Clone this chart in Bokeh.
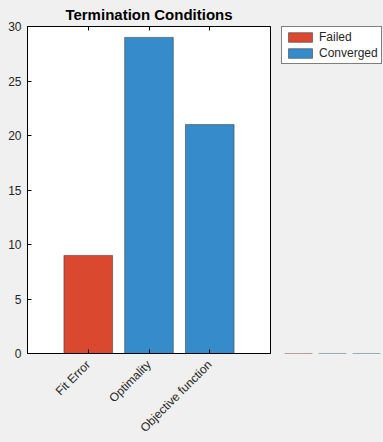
import math
from bokeh.plotting import figure
from bokeh.layouts import row
from bokeh.models import (ColumnDataSource, FactorRange, Range1d, CategoricalAxis,
                          FixedTicker, GlobalInlineStyleSheet, Legend, LegendItem)
from bokeh.embed import file_html
from bokeh.resources import INLINE

# ---- data ----
categories = ["Fit Error", "Optimality", "Objective function"]
counts = [9, 29, 21]
status = ["Failed", "Converged", "Converged"]
status_names = ["Failed", "Converged"]
status_colors = ["#D9482F", "#368CCB"]
y_ticks = [0, 5, 10, 15, 20, 25, 30]

cmap = dict(zip(status_names, status_colors))
source = ColumnDataSource(dict(cat=categories, count=counts, status=status,
                               color=[cmap[s] for s in status]))

FONT = "Liberation Sans"
TXT = "#262626"
BG = "#f0f0f0"

# ---- main axes ----
p = figure(x_range=FactorRange(factors=categories, range_padding=0.5,
                               range_padding_units="absolute"),
           y_range=Range1d(0, 30),
           width=271, height=442,
           output_backend="svg", toolbar_location=None,
           min_border_left=27, min_border_right=1, min_border_top=25, min_border_bottom=88,
           background_fill_color="white", border_fill_color=BG,
           outline_line_color="black", outline_line_width=1)

p.stylesheets = [GlobalInlineStyleSheet(css="html, body { background-color: #f0f0f0; }")]

p.title.text = "Termination Conditions"
p.title.align = "center"
p.title.text_font = FONT
p.title.text_font_size = "15px"
p.title.text_font_style = "bold"
p.title.text_color = "black"
p.title.standoff = 7

p.vbar(x="cat", top="count", width=0.8, source=source, fill_color="color",
       line_color="#3a3a3a", line_width=0.8, line_alpha=0.7)

p.xgrid.visible = False
p.ygrid.visible = False

for ax in p.xaxis + p.yaxis:
    ax.axis_line_color = "black"
    ax.major_tick_line_color = "black"
    ax.major_tick_in = 4
    ax.major_tick_out = 0
    ax.minor_tick_line_color = None
    ax.major_label_text_font = FONT
    ax.major_label_text_font_size = "12px"
    ax.major_label_text_color = TXT

p.yaxis.ticker = FixedTicker(ticks=y_ticks)
p.yaxis.major_label_standoff = 6
p.xaxis.major_label_orientation = math.pi / 4
p.xaxis.major_label_standoff = 9

top = CategoricalAxis(major_label_text_font_size="0px", major_label_text_color=None,
                      major_tick_in=4, major_tick_out=0,
                      major_label_standoff=0, axis_line_color="black",
                      major_tick_line_color="black", minor_tick_line_color=None)
p.add_layout(top, "above")

# ---- legend panel (separate canvas to the right of the axes) ----
q = figure(x_range=FactorRange(factors=categories), y_range=Range1d(1000, 1001),
           width=112, height=442, min_border=0, min_border_left=10,
           x_axis_location=None, y_axis_location=None,
           output_backend="svg", toolbar_location=None,
           background_fill_color=BG, border_fill_color=BG, outline_line_color=None)
q.xgrid.visible = False
q.ygrid.visible = False
qr = q.vbar(x="cat", top="count", width=0.8, source=source, fill_color="color",
            line_color="#3a3a3a", line_width=0.8, line_alpha=0.7)

items = [LegendItem(label=name, renderers=[qr], index=status.index(name))
         for name in status_names]
lg = Legend(items=items, location="top_left",
            border_line_color="black", border_line_width=1,
            background_fill_color="white", background_fill_alpha=1.0,
            label_text_font=FONT, label_text_font_size="12px", label_text_color=TXT,
            glyph_width=30, glyph_height=12, label_height=12, spacing=2,
            padding=3, margin=0, label_standoff=4)
q.add_layout(lg, "center")

layout = row(p, q, spacing=0)

open("out.html", "w").write(file_html(layout, INLINE))
